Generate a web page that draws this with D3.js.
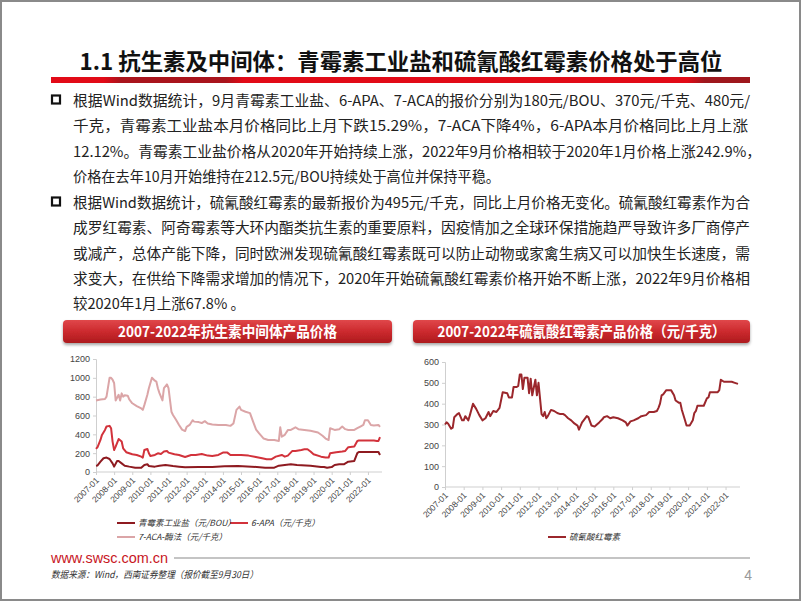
<!DOCTYPE html>
<html>
<head>
<meta charset="utf-8">
<script src="https://cdn.jsdelivr.net/npm/d3@7"></script>
<style>
body { margin: 0; background: #fff; }
svg { display: block; font-family: "Noto Sans CJK SC", "Noto Sans", sans-serif; }
</style>
</head>
<body>
<div id="page"></div>
<script>
// ---- data ----
var tickYears = ["2007-01","2008-01","2009-01","2010-01","2011-01","2012-01","2013-01","2014-01",
                 "2015-01","2016-01","2017-01","2018-01","2019-01","2020-01","2021-01","2022-01"];

var penicillinDates = ["2007-01","2007-02","2007-04","2007-06","2007-08","2007-10","2007-12","2008-01","2008-03","2008-04",
  "2008-06","2008-08","2008-11","2009-03","2009-07","2009-09","2009-11","2009-12","2010-04","2010-07","2010-11","2011-04",
  "2011-08","2011-12","2012-09","2013-06","2014-02","2014-11","2015-08","2016-05","2016-11","2017-02","2017-06","2017-10",
  "2018-02","2018-11","2019-06","2019-08","2019-10","2019-12","2020-01","2020-03","2020-06","2020-09","2020-12","2021-04",
  "2021-06","2021-07","2022-08","2022-09"];
var penicillinValues = [67,70,110,146,153,138,92,57,117,117,
  92,67,57,46,46,75,82,64,57,67,75,64,
  57,50,53,53,60,64,57,46,46,67,75,82,
  75,67,53,53,45,50,52,75,82,82,110,117,
  200,212,212,180];

var apaDates = ["2007-01","2007-02","2007-04","2007-05","2007-07","2007-08","2007-10","2007-11","2007-12","2008-01","2008-02",
  "2008-04","2008-06","2008-07","2008-09","2008-11","2009-01","2009-04","2009-07","2009-08","2009-09","2009-11","2009-12",
  "2010-01","2010-04","2010-06","2010-08","2010-10","2010-12","2011-01","2011-05","2011-08","2011-12","2012-04","2012-07",
  "2012-11","2013-03","2013-06","2013-10","2014-01","2014-04","2014-06","2015-01","2015-06","2015-10","2016-03","2016-06",
  "2016-09","2016-12","2017-04","2017-06","2017-08","2017-11","2018-01","2018-05","2018-07","2018-09","2018-11","2019-01",
  "2019-06","2019-09","2019-11","2019-12","2020-04","2020-08","2020-10","2020-12","2021-04","2021-06","2021-07","2022-05",
  "2022-07","2022-08","2022-09"];
var apaValues = [245,265,340,394,447,483,490,465,323,234,270,
  350,323,252,210,199,188,181,163,153,234,245,199,
  170,181,199,192,217,224,206,188,181,160,181,181,
  192,174,170,181,206,206,181,181,174,163,146,135,
  135,163,181,163,174,224,224,234,241,241,217,188,
  163,153,153,199,210,217,224,263,270,330,334,334,
  330,330,370];

var acaDates = ["2007-01","2007-04","2007-07","2007-08","2007-10","2007-11","2007-12","2008-01","2008-02","2008-04","2008-05",
  "2008-06","2008-07","2008-08","2008-10","2008-11","2009-01","2009-04","2009-07","2009-08","2009-09","2009-11","2009-12",
  "2010-02","2010-04","2010-05","2010-06","2010-07","2010-09","2010-10","2010-12","2011-01","2011-03","2011-04","2011-06",
  "2011-08","2011-10","2011-12","2012-01","2012-03","2012-05","2012-06","2012-09","2012-11","2013-01","2013-03","2013-06",
  "2013-10","2014-03","2014-06","2014-08","2014-10","2014-12","2015-01","2015-04","2015-07","2015-09","2015-11","2016-01",
  "2016-04","2016-07","2016-11","2017-02","2017-03","2017-04","2017-06","2017-08","2017-10","2018-01","2018-03","2018-07",
  "2018-11","2019-04","2019-07","2019-09","2019-11","2019-12","2020-03","2020-06","2020-08","2020-10","2020-12","2021-04",
  "2021-06","2021-08","2021-10","2021-11","2022-01","2022-03","2022-05","2022-08","2022-09"];
var acaValues = [760,770,775,800,1000,1000,980,945,760,820,760,
  835,800,815,810,770,730,700,675,660,710,820,890,
  1000,970,960,890,840,760,890,930,890,640,605,555,
  500,450,435,480,500,550,535,530,520,540,515,505,
  500,500,490,515,660,695,660,640,625,535,450,410,
  355,340,340,330,475,375,395,445,447,475,455,447,
  437,420,385,355,340,465,447,455,483,455,447,447,
  465,483,500,550,550,500,495,500,480];

var eryDates = ["2007-01","2007-02","2007-03","2007-05","2007-06","2007-07","2007-09","2007-10","2007-12","2008-01","2008-02",
  "2008-04","2008-05","2008-07","2008-09","2008-11","2009-01","2009-03","2009-05","2009-06","2009-08","2009-10","2009-12",
  "2010-02","2010-05","2010-06","2010-08","2010-09","2010-11","2010-12","2011-01","2011-02","2011-03","2011-04","2011-06",
  "2011-07","2011-08","2011-09","2011-11","2011-12","2012-01","2012-03","2012-04","2012-05","2012-06","2012-07","2012-09",
  "2012-11","2013-01","2013-03","2013-05","2013-06","2013-08","2013-10","2013-12","2014-02","2014-03","2014-05","2014-06",
  "2014-08","2014-09","2014-11","2015-01","2015-04","2015-06","2015-07","2015-09","2015-11","2016-01","2016-04","2016-07",
  "2016-09","2016-10","2016-12","2017-02","2017-05","2017-07","2017-10","2017-12","2018-03","2018-05","2018-06","2018-07",
  "2018-08","2018-09","2018-11","2019-02","2019-04","2019-05","2019-07","2019-08","2019-09","2019-11","2019-12","2020-02",
  "2020-04","2020-05","2020-06","2020-07","2020-11","2021-01","2021-02","2021-03","2021-08","2021-09","2021-10","2021-12",
  "2022-05","2022-07","2022-09"];
var eryValues = [300,310,305,280,285,335,350,355,320,320,340,
  320,345,400,375,345,320,330,360,340,365,360,380,
  455,450,430,430,480,480,485,540,540,470,525,525,
  450,520,440,515,440,500,350,340,360,330,340,370,
  365,355,350,350,345,330,320,305,295,275,310,320,
  340,335,295,290,310,325,335,340,330,335,330,320,
  310,295,315,320,330,340,345,360,360,365,380,400,
  440,445,465,465,440,415,405,405,370,320,295,295,
  320,355,365,390,390,425,430,455,455,465,515,505,
  505,500,495];

var leftYTicks = [0, 200, 400, 600, 800, 1000, 1200];
var rightYTicks = [0, 100, 200, 300, 400, 500, 600];

var para1 = [
  "根据Wind数据统计，9月青霉素工业盐、6-APA、7-ACA的报价分别为180元/BOU、370元/千克、480元/",
  "千克，青霉素工业盐本月价格同比上月下跌15.29%，7-ACA下降4%，6-APA本月价格同比上月上涨",
  "12.12%。青霉素工业盐价格从2020年开始持续上涨，2022年9月价格相较于2020年1月价格上涨242.9%，",
  "价格在去年10月开始维持在212.5元/BOU持续处于高位并保持平稳。"
];
var para2 = [
  "根据Wind数据统计，硫氰酸红霉素的最新报价为495元/千克，同比上月价格无变化。硫氰酸红霉素作为合",
  "成罗红霉素、阿奇霉素等大环内酯类抗生素的重要原料，因疫情加之全球环保措施趋严导致许多厂商停产",
  "或减产，总体产能下降，同时欧洲发现硫氰酸红霉素既可以防止动物或家禽生病又可以加快生长速度，需",
  "求变大，在供给下降需求增加的情况下，2020年开始硫氰酸红霉素价格开始不断上涨，2022年9月价格相",
  "较2020年1月上涨67.8% 。"
];

var parseMonth = d3.timeParse("%Y-%m");

function toPoints(dates, values) {
    return dates.map(function(d, i) { return { date: parseMonth(d), value: values[i] }; });
}

var svg = d3.select("#page").append("svg")
    .attr("width", 802)
    .attr("height", 602);

var defs = svg.append("defs");

var barGrad = defs.append("linearGradient").attr("id", "barGrad");
[[0, "#e20a17"], [0.075, "#e20a17"], [0.1, "#a9141c"], [0.25, "#a9141c"], [0.275, "#e20a17"],
 [0.91, "#e20a17"], [0.935, "#9e171d"], [1, "#9e171d"]].forEach(function(s) {
    barGrad.append("stop").attr("offset", s[0]).attr("stop-color", s[1]);
});

var boxGrad = defs.append("linearGradient").attr("id", "boxGrad")
    .attr("x1", 0).attr("y1", 0).attr("x2", 0).attr("y2", 1);
boxGrad.append("stop").attr("offset", 0).attr("stop-color", "#e0474a");
boxGrad.append("stop").attr("offset", 0.5).attr("stop-color", "#cc2a2e");
boxGrad.append("stop").attr("offset", 1).attr("stop-color", "#ad1a1e");

defs.append("filter").attr("id", "shadow")
    .attr("x", "-5%").attr("y", "-30%").attr("width", "110%").attr("height", "180%")
  .append("feDropShadow")
    .attr("dx", 0).attr("dy", 2).attr("stdDeviation", 1.8)
    .attr("flood-color", "#000").attr("flood-opacity", 0.35);

// page frame
svg.append("rect")
    .attr("x", 1).attr("y", 1).attr("width", 799).attr("height", 599)
    .attr("fill", "#fff").attr("stroke", "#8a8a8a").attr("stroke-width", 2);

// heading
svg.append("text")
    .attr("x", 401).attr("y", 70)
    .attr("text-anchor", "middle")
    .attr("font-size", 22.5).attr("font-weight", 700).attr("fill", "#111")
    .attr("textLength", 643).attr("lengthAdjust", "spacingAndGlyphs")
    .text("1.1 抗生素及中间体：青霉素工业盐和硫氰酸红霉素价格处于高位");

svg.append("rect")
    .attr("x", 51).attr("y", 77).attr("width", 699).attr("height", 6)
    .attr("fill", "url(#barGrad)");

// body paragraphs
function drawParagraph(lines, firstY, justified) {
    svg.append("rect")
        .attr("x", 52).attr("y", firstY - 10.5).attr("width", 8).attr("height", 8)
        .attr("fill", "none").attr("stroke", "#111").attr("stroke-width", 2.2);
    lines.forEach(function(line, i) {
        var t = svg.append("text")
            .attr("x", 73).attr("y", firstY + i * 25.3)
            .attr("font-size", 14.5).attr("fill", "#222")
            .text(line);
        if (justified[i]) {
            t.attr("textLength", justified[i]).attr("lengthAdjust", "spacingAndGlyphs");
        }
    });
}
drawParagraph(para1, 106, [677, 675, 688, 427]);
drawParagraph(para2, 208, [677, 677, 677, 677, 0]);

// chart title boxes
function drawBox(x, w, label, textW) {
    svg.append("rect")
        .attr("x", x).attr("y", 320).attr("width", w).attr("height", 23)
        .attr("rx", 4).attr("fill", "url(#boxGrad)")
        .attr("filter", "url(#shadow)");
    svg.append("text")
        .attr("x", x + w / 2).attr("y", 337)
        .attr("text-anchor", "middle")
        .attr("font-size", 14.5).attr("font-weight", 700).attr("fill", "#fff")
        .attr("textLength", textW).attr("lengthAdjust", "spacingAndGlyphs")
        .text(label);
}
drawBox(63, 329, "2007-2022年抗生素中间体产品价格", 219);
drawBox(413, 337, "2007-2022年硫氰酸红霉素产品价格（元/千克）", 288);

// line charts
function drawChart(spec) {
    var x = d3.scaleTime()
        .domain([parseMonth("2007-01"), parseMonth("2022-09")])
        .range([spec.left, spec.right]);
    var y = d3.scaleLinear()
        .domain([0, d3.max(spec.yTicks)])
        .range([spec.bottom, spec.top]);

    var g = svg.append("g");

    var yAxis = g.append("g")
        .attr("transform", "translate(" + spec.left + ",0)")
        .call(d3.axisLeft(y).tickValues(spec.yTicks).tickFormat(d3.format("d"))
            .tickSize(3).tickPadding(3));
    yAxis.select(".domain").attr("stroke", "#cfcfcf");
    yAxis.selectAll(".tick line").attr("stroke", "#cfcfcf");
    yAxis.selectAll("text")
        .attr("font-family", "'Liberation Sans', Arial, sans-serif")
        .attr("font-size", 9).attr("fill", "#444");

    var xAxis = g.append("g")
        .attr("transform", "translate(0," + spec.bottom + ")")
        .call(d3.axisBottom(x).tickValues(tickYears.map(parseMonth))
            .tickFormat(d3.timeFormat("%Y-%m")).tickSizeOuter(0).tickSize(3));
    xAxis.select(".domain").attr("stroke", "#cfcfcf")
        .attr("d", "M" + spec.left + ",0H" + spec.axisEnd);
    xAxis.selectAll(".tick line").attr("stroke", "#cfcfcf");
    xAxis.selectAll("text")
        .attr("font-family", "'Liberation Sans', Arial, sans-serif")
        .attr("font-size", 8.5).attr("fill", "#444")
        .attr("text-anchor", "end")
        .attr("dy", null)
        .attr("y", 0)
        .attr("transform", "translate(3,9) rotate(-45)");

    var line = d3.line()
        .x(function(d) { return x(d.date); })
        .y(function(d) { return y(d.value); });

    spec.series.forEach(function(s) {
        g.append("path")
            .datum(toPoints(s.dates, s.values))
            .attr("fill", "none")
            .attr("stroke", s.color)
            .attr("stroke-width", 2)
            .attr("stroke-linejoin", "round")
            .attr("d", line);
    });

    spec.series.forEach(function(s) {
        g.append("line")
            .attr("x1", s.lx).attr("x2", s.lx + 18)
            .attr("y1", s.ly).attr("y2", s.ly)
            .attr("stroke", s.color).attr("stroke-width", 2);
        g.append("text")
            .attr("x", s.lx + 21).attr("y", s.ly + 3)
            .attr("font-size", 8.5).attr("fill", "#333")
            .attr("font-style", "italic")
            .text(s.name);
    });
}

drawChart({
    left: 96, right: 380, axisEnd: 382, top: 359, bottom: 472,
    yTicks: leftYTicks,
    series: [
        { name: "7-ACA-酶法（元/千克）", dates: acaDates, values: acaValues, color: "#dba5a7", lx: 117, ly: 537 },
        { name: "6-APA（元/千克）", dates: apaDates, values: apaValues, color: "#d2323b", lx: 230, ly: 523 },
        { name: "青霉素工业盐（元/BOU）", dates: penicillinDates, values: penicillinValues, color: "#8e1a20", lx: 117, ly: 523 }
    ]
});

drawChart({
    left: 445, right: 738, axisEnd: 740, top: 362, bottom: 487,
    yTicks: rightYTicks,
    series: [
        { name: "硫氰酸红霉素", dates: eryDates, values: eryValues, color: "#9b272c", lx: 548, ly: 537 }
    ]
});

// footer
svg.append("text")
    .attr("x", 51).attr("y", 563)
    .attr("font-family", "'Liberation Sans', Arial, sans-serif")
    .attr("font-size", 15).attr("fill", "#c8161e")
    .attr("textLength", 117).attr("lengthAdjust", "spacingAndGlyphs")
    .text("www.swsc.com.cn");
svg.append("line")
    .attr("x1", 174).attr("x2", 750).attr("y1", 558).attr("y2", 558)
    .attr("stroke", "#c4c4c4").attr("stroke-width", 2);
svg.append("text")
    .attr("x", 51).attr("y", 578)
    .attr("font-size", 9.5).attr("font-style", "italic").attr("fill", "#333")
    .attr("textLength", 207).attr("lengthAdjust", "spacingAndGlyphs")
    .text("数据来源：Wind，西南证券整理（报价截至9月30日）");
svg.append("text")
    .attr("x", 752).attr("y", 580)
    .attr("text-anchor", "end")
    .attr("font-family", "'Liberation Sans', Arial, sans-serif")
    .attr("font-size", 14).attr("fill", "#999")
    .text("4");
</script>
</body>
</html>
